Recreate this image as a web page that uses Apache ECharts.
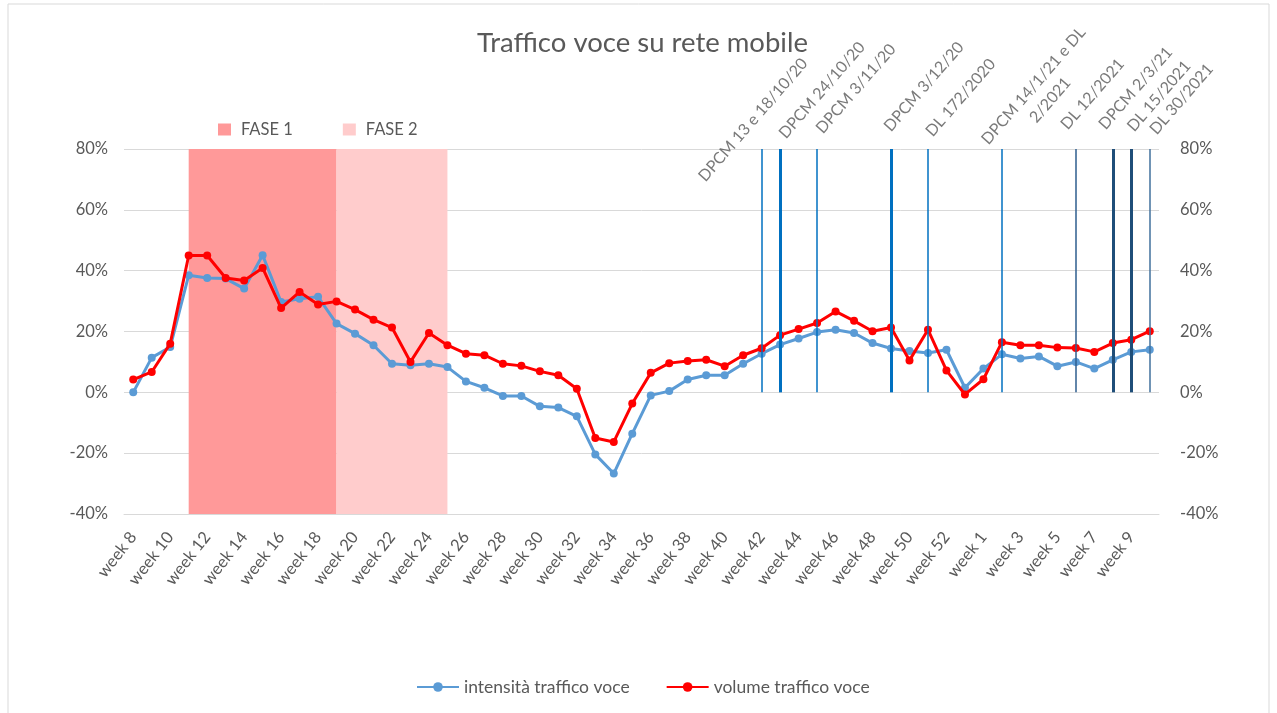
<!DOCTYPE html>
<html><head><meta charset="utf-8">
<script src="https://cdn.jsdelivr.net/npm/echarts@6/dist/echarts.min.js"></script>
<style>html,body{margin:0;padding:0;background:#fff}#c{width:1277px;height:713px}</style>
</head><body><div id="c"></div>
<script>
// ---- data ----
const weeks = ['week 8','week 9','week 10','week 11','week 12','week 13','week 14','week 15','week 16','week 17',
  'week 18','week 19','week 20','week 21','week 22','week 23','week 24','week 25','week 26','week 27',
  'week 28','week 29','week 30','week 31','week 32','week 33','week 34','week 35','week 36','week 37',
  'week 38','week 39','week 40','week 41','week 42','week 43','week 44','week 45','week 46','week 47',
  'week 48','week 49','week 50','week 51','week 52','week 53','week 1','week 2','week 3','week 4',
  'week 5','week 6','week 7','week 8','week 9','week 10'];
const intensita = [0.0,11.4,14.9,38.5,37.6,37.4,34.1,45.1,29.7,30.8,
  31.4,22.6,19.3,15.5,9.4,8.9,9.4,8.3,3.6,1.5,
  -1.2,-1.2,-4.6,-5.0,-7.9,-20.4,-26.7,-13.6,-1.0,0.4,
  4.2,5.6,5.6,9.4,12.7,15.7,17.7,19.8,20.6,19.5,
  16.2,14.4,13.6,12.9,14.0,1.5,7.8,12.5,11.1,11.8,
  8.6,10.0,7.8,10.7,13.3,14.0];
const volume = [4.2,6.7,16.0,45.0,45.0,37.6,36.8,40.9,27.7,33.0,
  28.9,29.9,27.2,23.9,21.3,10.0,19.5,15.5,12.7,12.2,
  9.4,8.7,6.9,5.6,1.2,-15.0,-16.3,-3.7,6.4,9.6,
  10.3,10.7,8.6,12.2,14.5,18.8,20.8,22.8,26.6,23.5,
  20.1,21.3,10.5,20.6,7.2,-0.7,4.3,16.5,15.5,15.5,
  14.7,14.6,13.3,16.2,17.3,20.1];
const yTicks = [-40,-20,0,20,40,60,80];
// phases: category indices (start, end)
const fase1 = [3, 11];
const fase2 = [11, 17];
// decrees: category index and label
const decreeIdx = [34,35,37,41,43,47,51,53,54,55];
const decreeLabels = ['DPCM 13 e 18/10/20','DPCM 24/10/20','DPCM 3/11/20','DPCM 3/12/20','DL 172/2020',
  'DPCM 14/1/21 e DL\n2/2021','DL 12/2021','DPCM 2/3/21','DL 15/2021','DL 30/2021'];
const decreeTop = 80, decreeBottom = 0;

// ---- styles (not data) ----
const LABEL_ROT = 49;
// screen-pixel shift of each label anchor from the top of its line
const decreeStyle = [
  {w:1.5,c:'#0070C0',s:[-60,30]},
  {w:3,c:'#0070C0',s:[2,-13]},
  {w:1.5,c:'#0070C0',s:[2,-18]},
  {w:3,c:'#0070C0',s:[-4,-20]},
  {w:1.5,c:'#0070C0',s:[1,-15]},
  {w:1.5,c:'#0070C0',s:[40,-56],align:'center'},
  {w:1.5,c:'#2E5E8E',s:[-12,-22]},
  {w:3,c:'#1F4E79',s:[-11,-22]},
  {w:3,c:'#1F4E79',s:[-1,-20]},
  {w:1.5,c:'#41719C',s:[3,-17]}
];
function localOffset(s){
  const a = LABEL_ROT*Math.PI/180, c = Math.cos(a), n = Math.sin(a);
  return [s[0]*c - s[1]*n, s[0]*n + s[1]*c];
}
const grey = '#595959';
const font = 'Lato';

const chart = echarts.init(document.getElementById('c'));
const decreeLines = decreeIdx.map((ix,i)=>[
  {coord:[ix, decreeBottom], lineStyle:{width:decreeStyle[i].w, color:decreeStyle[i].c, type:'solid'}},
  {coord:[ix, decreeTop]}
]);
const decreePoints = decreeIdx.map((ix,i)=>({
  value:[ix, decreeTop], name:decreeLabels[i],
  label:{offset:localOffset(decreeStyle[i].s), align:decreeStyle[i].align || 'left'}
}));

const option = {
  animation:false,
  backgroundColor:'#fff',
  textStyle:{fontFamily:font},
  graphic:[{type:'rect', shape:{x:8,y:4,width:1261,height:720}, style:{fill:'none', stroke:'#D9D9D9', lineWidth:1}, silent:true}],
  title:{text:'Traffico voce su rete mobile', left:472, top:24,
    textStyle:{fontFamily:font, fontSize:27.5, fontWeight:'normal', color:grey}},
  legend:[
    {data:[{name:'FASE 1',icon:'rect'},{name:'FASE 2',icon:'rect'}], left:213, top:116, itemWidth:13, itemHeight:12, itemGap:50,
      selectedMode:false, textStyle:{color:grey, fontSize:16.5, fontFamily:font, padding:[0,0,0,5]}},
    {data:['intensità traffico voce','volume traffico voce'], left:411, top:673, itemWidth:42, itemHeight:12, itemGap:36,
      selectedMode:false, textStyle:{color:grey, fontSize:17.5, fontFamily:font}}
  ],
  grid:{left:124, right:118, top:149, bottom:199},
  xAxis:{type:'category', data:weeks, boundaryGap:true,
    axisLine:{onZero:false, lineStyle:{color:'#D9D9D9'}}, axisTick:{show:false},
    axisLabel:{interval:1, rotate:52, color:grey, fontSize:16.5, fontFamily:font, margin:20}},
  yAxis:[
    {type:'value', min:yTicks[0], max:yTicks[yTicks.length-1], interval:20,
      axisLabel:{formatter:'{value}%', color:grey, fontSize:16.5, fontFamily:font, margin:16},
      axisLine:{show:false}, axisTick:{show:false}, splitLine:{lineStyle:{color:'#D9D9D9', width:1}}},
    {type:'value', position:'right', min:yTicks[0], max:yTicks[yTicks.length-1], interval:20,
      axisLabel:{formatter:'{value}%', color:grey, fontSize:16.5, fontFamily:font, margin:21},
      axisLine:{show:false}, axisTick:{show:false}, splitLine:{show:false}}
  ],
  series:[
    {name:'FASE 1', type:'line', data:[], z:1, itemStyle:{color:'#FF9999'}, lineStyle:{color:'#FF9999'},
      markArea:{silent:true, itemStyle:{color:'#FF9999'}, data:[[{coord:[fase1[0], 80]},{coord:[fase1[1], -40]}]]}},
    {name:'FASE 2', type:'line', data:[], z:1, itemStyle:{color:'#FFCCCC'}, lineStyle:{color:'#FFCCCC'},
      markArea:{silent:true, itemStyle:{color:'#FFCCCC'}, data:[[{coord:[fase2[0], 80]},{coord:[fase2[1], -40]}]]}},
    {name:'decreti', type:'scatter', symbolSize:0, z:2, silent:true, data:decreePoints,
      label:{show:true, position:'inside', formatter:p=>p.name, rotate:LABEL_ROT, verticalAlign:'middle',
        color:grey, fontSize:16, fontFamily:font, lineHeight:22},
      markLine:{silent:true, symbol:['none','none'], label:{show:false}, data:decreeLines}},
    {name:'intensità traffico voce', type:'line', data:intensita, z:3,
      symbol:'circle', symbolSize:8, itemStyle:{color:'#5B9BD5'}, lineStyle:{color:'#5B9BD5', width:3}},
    {name:'volume traffico voce', type:'line', data:volume, z:4,
      symbol:'circle', symbolSize:8, itemStyle:{color:'#FF0000'}, lineStyle:{color:'#FF0000', width:3}}
  ]
};
chart.setOption(option);
</script>
</body></html>
